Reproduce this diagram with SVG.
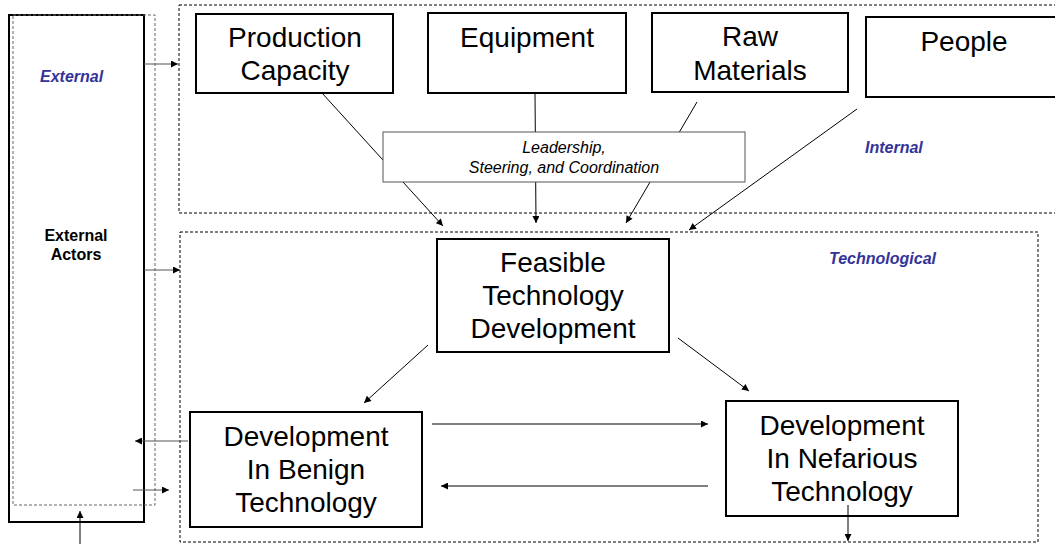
<svg xmlns="http://www.w3.org/2000/svg" width="1055" height="544" viewBox="0 0 1055 544">
<defs>
<style>
.box{fill:#fff;stroke:#000;stroke-width:2}
.lbox{fill:#fff;stroke:#555;stroke-width:1}
.zone{fill:none;stroke:#000;stroke-width:1;stroke-dasharray:3,2}
.gzone{fill:none;stroke:#666;stroke-width:1;stroke-dasharray:3,2}
.t{font-family:"Liberation Sans",Arial,sans-serif;font-size:28px;fill:#000;text-anchor:middle}
.it{font-family:"Liberation Sans",Arial,sans-serif;font-size:16px;font-style:italic;fill:#000;text-anchor:middle}
.lab{font-family:"Liberation Sans",Arial,sans-serif;font-size:16px;font-style:italic;font-weight:bold;fill:#333399}
.act{font-family:"Liberation Sans",Arial,sans-serif;font-size:16px;font-weight:bold;fill:#000;text-anchor:middle}
.c{fill:none;stroke:#000;stroke-width:1}
.cg{fill:none;stroke:#555;stroke-width:1}
</style>
<marker id="ah" viewBox="0 0 10 10" refX="10" refY="5" markerWidth="8" markerHeight="7" markerUnits="userSpaceOnUse" orient="auto">
<path d="M0,0 L10,5 L0,10 z" fill="#000"/>
</marker>
</defs>

<g id="zones">
<rect class="zone" x="179" y="5" width="890" height="208"/>
<rect class="zone" x="180" y="232" width="858" height="310"/>
</g>

<g id="external-actors">
<rect class="box" x="9" y="15" width="135" height="507"/>
<rect class="gzone" x="13" y="15" width="142" height="490"/>
<text class="lab" x="40" y="82">External</text>
<text class="act" x="76" y="241">External</text>
<text class="act" x="76" y="260">Actors</text>
</g>

<g id="labels">
<text class="lab" x="865" y="153">Internal</text>
<text class="lab" x="829" y="264">Technological</text>
</g>

<g id="connectors-behind">
<line class="c" x1="322" y1="93" x2="443" y2="226" marker-end="url(#ah)"/>
<line class="c" x1="535" y1="93" x2="536" y2="223" marker-end="url(#ah)"/>
<line class="c" x1="697" y1="102" x2="626" y2="223" marker-end="url(#ah)"/>
</g>

<g id="production-capacity">
<rect class="box" x="196" y="14" width="197" height="79"/>
<text class="t" x="295" y="47">Production</text>
<text class="t" x="295" y="80">Capacity</text>
</g>

<g id="equipment">
<rect class="box" x="428" y="13" width="198" height="80"/>
<text class="t" x="527" y="47">Equipment</text>
</g>

<g id="raw-materials">
<rect class="box" x="652" y="13" width="196" height="79"/>
<text class="t" x="750" y="46">Raw</text>
<text class="t" x="750" y="80">Materials</text>
</g>

<g id="people">
<rect class="box" x="866" y="17" width="200" height="80"/>
<text class="t" x="964" y="51">People</text>
</g>

<g id="leadership">
<rect class="lbox" x="383" y="132" width="362" height="50"/>
<text class="it" x="564" y="153">Leadership,</text>
<text class="it" x="564" y="173">Steering, and Coordination</text>
</g>

<g id="feasible">
<rect class="box" x="437" y="239" width="232" height="113"/>
<text class="t" x="553" y="272">Feasible</text>
<text class="t" x="553" y="305">Technology</text>
<text class="t" x="553" y="338">Development</text>
</g>

<g id="benign">
<rect class="box" x="190" y="412" width="232" height="115"/>
<text class="t" x="306" y="446">Development</text>
<text class="t" x="306" y="479">In Benign</text>
<text class="t" x="306" y="512">Technology</text>
</g>

<g id="nefarious">
<rect class="box" x="726" y="401" width="232" height="115"/>
<text class="t" x="842" y="435">Development</text>
<text class="t" x="842" y="468">In Nefarious</text>
<text class="t" x="842" y="501">Technology</text>
</g>

<g id="connectors">
<line class="c" x1="857" y1="109" x2="689" y2="230" marker-end="url(#ah)"/>
<line class="c" x1="428" y1="345" x2="364" y2="403" marker-end="url(#ah)"/>
<line class="c" x1="678" y1="338" x2="749" y2="391" marker-end="url(#ah)"/>
<line class="c" x1="432" y1="424" x2="708" y2="424" marker-end="url(#ah)"/>
<line class="c" x1="708" y1="486" x2="441" y2="486" marker-end="url(#ah)"/>
<line class="c" x1="848" y1="505" x2="848" y2="541" marker-end="url(#ah)"/>
<line class="cg" x1="144" y1="64" x2="178" y2="64" marker-end="url(#ah)"/>
<line class="cg" x1="144" y1="270" x2="180" y2="270" marker-end="url(#ah)"/>
<line class="cg" x1="188" y1="441" x2="135" y2="441" marker-end="url(#ah)"/>
<line class="cg" x1="133" y1="490" x2="169" y2="490" marker-end="url(#ah)"/>
<line class="c" x1="80" y1="544" x2="80" y2="511" marker-end="url(#ah)"/>
</g>
</svg>
